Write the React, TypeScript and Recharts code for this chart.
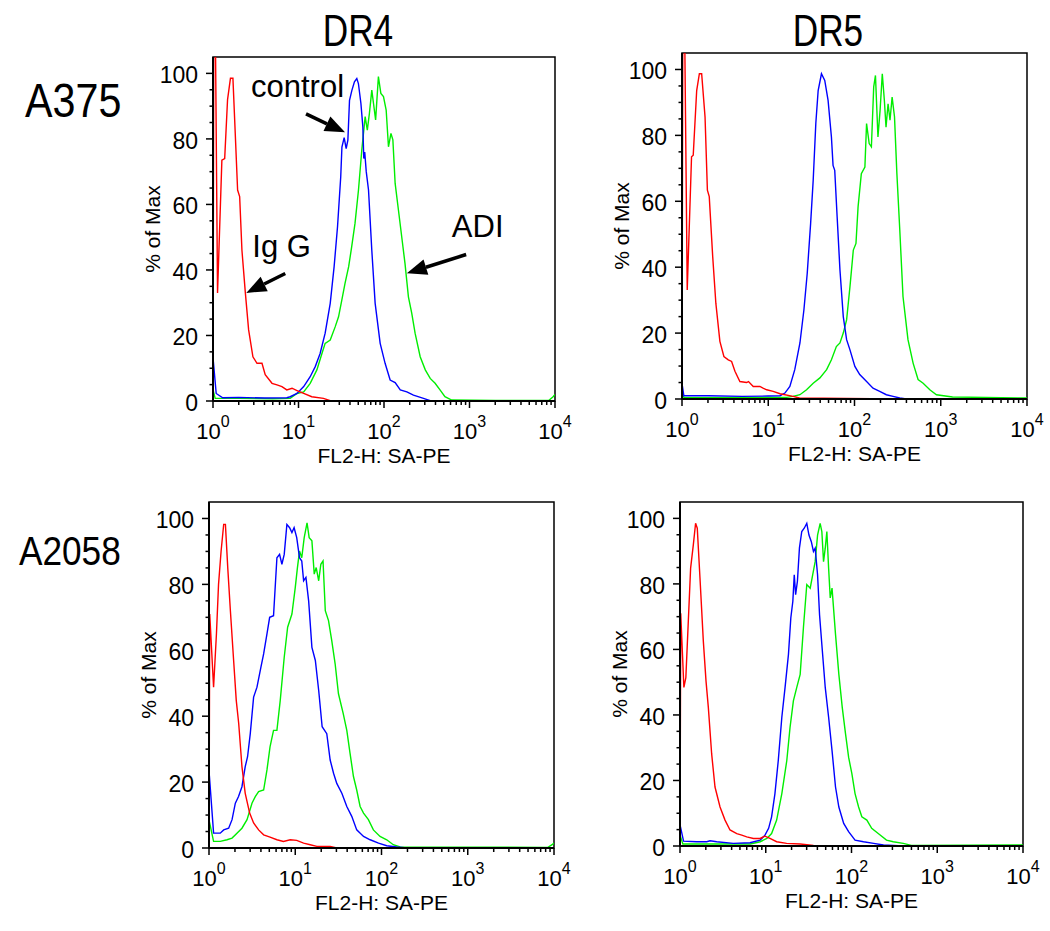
import React from 'react';
import { LineChart, Line, XAxis, YAxis, ReferenceArea, ReferenceDot, Label } from 'recharts';

const FONT = "Arial, 'Liberation Sans', Helvetica, sans-serif";
const RED = '#ff0000';
const BLUE = '#0000ff';
const GREEN = '#00ee00';

type Pt = [number, number];

// [fluorescence, % of max]
const a375Dr4IgG: Pt[] = [[1, 0], [1.03, 160], [1.13, 33], [1.27, 73.5], [1.37, 74], [1.48, 92], [1.6, 98.5], [1.71, 98.5], [1.82, 81.7], [1.94, 64.4], [2.05, 62.4], [2.18, 46], [2.39, 33], [2.61, 21.7], [2.93, 13.5], [3.27, 11.5], [3.74, 11.5], [4.08, 8], [4.9, 5.4], [5.6, 4.9], [6.4, 4.4], [7.3, 3.4], [8.4, 3.9], [9.6, 3.2], [11.5, 2.3], [14.3, 1.3], [19.6, 0.8], [23.5, 0.1], [300, 0]];
const a375Dr4Control: Pt[] = [[1, 0], [1.01, 12], [1.09, 2.3], [1.3, 1], [2, 1.1], [4, 0.9], [7.3, 1], [8, 1.3], [9.6, 2.3], [11.5, 4.4], [13.7, 7.4], [15.7, 10.5], [17.9, 14.5], [20.5, 20.7], [23.5, 29.8], [26.1, 41], [28.6, 53.2], [31.2, 68.5], [32.2, 77.5], [34.2, 80.4], [36.1, 77], [37.8, 79.6], [39.5, 91.8], [42.1, 94.8], [45.1, 97.4], [48.1, 98.4], [50.2, 96.9], [53.7, 90.8], [56.6, 83.6], [58, 74], [59.5, 76], [62, 70], [65.9, 64.4], [72, 46], [78.8, 29.8], [90.2, 17.6], [103, 11.5], [118, 6.4], [135, 5.6], [155, 3.4], [185, 2.8], [221, 1.8], [290, 0.8], [347, 0.1], [650, 0]];
const a375Dr4Adi: Pt[] = [[1, 0], [1.01, 3], [1.06, 0.8], [2, 0.8], [5, 0.7], [8, 0.8], [9.6, 2.3], [11.5, 2.8], [13.7, 5.4], [16.4, 9.5], [18.8, 14.5], [20.5, 17.6], [23.5, 18.6], [26.9, 22.7], [29.4, 25.7], [32.1, 30.8], [35, 35.9], [38.6, 41], [41.9, 47.1], [45.8, 54.2], [50.3, 64.4], [55, 76.6], [60.2, 86.8], [63.8, 82.7], [67.5, 87.8], [72, 94.9], [75.4, 90.8], [79.8, 85.8], [86, 99], [91.9, 93.9], [98.6, 92.9], [106, 88.8], [112.8, 77.6], [120.6, 81.7], [127, 79.7], [135, 66.4], [147.5, 58.3], [161, 50.2], [176, 42], [193, 31.8], [211, 26.8], [231, 20.7], [265, 13.5], [304, 9.5], [347, 6.9], [396, 5.4], [452, 3.4], [516, 1.3], [619, 0.3], [2000, 0.2], [8500, 0.2], [9500, 1.3], [10000, 2]];

const a375Dr5IgG: Pt[] = [[1, 0], [1.03, 160], [1.15, 33.1], [1.29, 73.5], [1.35, 74], [1.48, 93.6], [1.59, 98.7], [1.69, 98.7], [1.85, 85.6], [1.97, 63.4], [2.07, 61.4], [2.27, 43.2], [2.47, 29], [2.75, 17.5], [3.06, 12.9], [3.44, 11.9], [3.76, 11.4], [4.11, 8.4], [4.69, 5.3], [5.6, 5], [5.9, 5.3], [6.7, 3.8], [8, 3.8], [8.7, 3.3], [9.6, 2.8], [11.4, 2.3], [13.7, 1.6], [19.4, 0.8], [23, 0.3], [300, 0]];
const a375Dr5Control: Pt[] = [[1, 0], [1.01, 4], [1.05, 1], [2, 1], [5, 0.8], [10, 0.9], [13.7, 1], [15.6, 1.8], [17.8, 3.8], [20.3, 8.9], [23.3, 17], [25.9, 27], [28.3, 38.1], [31, 53.3], [33.2, 66.4], [35.6, 83.6], [37.9, 93.6], [41.4, 98.7], [45.2, 96.7], [49.4, 90.6], [54, 79.5], [56.4, 70.9], [59, 69.4], [62.9, 55.3], [67.8, 39.2], [74.1, 25], [81, 18], [88.6, 14.9], [101, 9.9], [115, 7.4], [138, 5.3], [164, 3.3], [196, 2.3], [234, 1.3], [280, 0.8], [335, 0.3], [400, 0]];
const a375Dr5Adi: Pt[] = [[1, 0], [1.01, 2], [1.05, 0.5], [5, 0.4], [16.3, 0.5], [19.4, 0.8], [23.3, 1.3], [27.8, 2.8], [33.2, 4.8], [39.7, 6.4], [47.5, 8.9], [54, 11.9], [61.6, 15.9], [67.8, 17], [74.1, 20], [81, 24], [88.6, 34.1], [96.9, 45.2], [104, 47.2], [110, 58.3], [120, 68.4], [132, 70.4], [138, 83.6], [148, 77.5], [157, 76.5], [167, 94.7], [175, 98.2], [187, 79.5], [198, 87.6], [210, 98.7], [222, 90.6], [232, 82.5], [245, 89.6], [258, 84.6], [273, 91.6], [291, 85.6], [310, 68.4], [335, 51.3], [365, 31.1], [417, 18], [478, 10.9], [546, 5.9], [625, 4.8], [747, 2.8], [892, 1.3], [1370, 0.6], [10000, 0.3]];

const a2058Dr4IgG: Pt[] = [[1, 0], [1.02, 71], [1.13, 48.8], [1.22, 65], [1.29, 80], [1.38, 90], [1.48, 98.2], [1.55, 98.2], [1.65, 85], [1.77, 72], [1.93, 56.9], [2.07, 44.8], [2.21, 37.8], [2.41, 24.7], [2.63, 16.6], [2.96, 10.6], [3.29, 7.6], [3.76, 5.5], [4.3, 4], [5.1, 3.3], [6.13, 2.5], [7.3, 2], [8.75, 2.5], [10.4, 2.3], [12.5, 1.5], [14.9, 1], [17.8, 0.5], [25.4, 0.5], [30.3, 0], [120, 0]];
const a2058Dr4Control: Pt[] = [[1, 0], [1.01, 22], [1.13, 4.5], [1.35, 4.5], [1.48, 5.5], [1.69, 6], [1.85, 8.6], [2.02, 13.6], [2.2, 15.6], [2.41, 18.6], [2.63, 24.7], [2.8, 27.7], [3.01, 34.7], [3.29, 45.8], [3.6, 48.8], [4, 54.9], [4.3, 58.9], [4.7, 65], [5.05, 70], [5.6, 70.5], [6.13, 88.1], [6.58, 89.1], [7, 86.1], [7.45, 89.1], [8, 98.2], [8.6, 97.2], [9.15, 95.7], [9.7, 97.2], [10.4, 94.2], [11.2, 88.1], [11.9, 87.1], [12.5, 81.1], [13.3, 82.1], [14.3, 75], [15.6, 60.9], [17.1, 56.9], [18.7, 47.8], [20.5, 36.8], [23.2, 34.7], [25.4, 26.7], [27.8, 22.7], [30.3, 19.6], [34.7, 16.6], [39.6, 12.6], [45.2, 9.6], [51.6, 5.5], [61.9, 3.5], [73.9, 2.5], [92.4, 1.5], [115, 0.7], [150, 0.3], [200, 0]];
const a2058Dr4Adi: Pt[] = [[1, 0], [1.01, 8], [1.13, 2], [1.35, 2], [1.62, 2.5], [1.85, 3], [2.11, 4.5], [2.41, 6], [2.76, 8.6], [3.15, 13.6], [3.44, 15.6], [3.76, 17.1], [4.3, 17.6], [4.7, 23.7], [5.1, 30.7], [5.6, 35.7], [6.13, 35.7], [6.7, 44.8], [7.45, 57.9], [8.16, 67], [9.15, 71], [10, 79], [10.6, 85.1], [11.2, 90.1], [11.9, 88.1], [12.7, 94.2], [13.7, 98.7], [14.5, 94.2], [15.6, 93.2], [16.6, 83.1], [17.5, 85.1], [18.7, 81.1], [19.8, 86.1], [21, 87.1], [22.3, 72], [24.3, 69], [26.5, 62.9], [29, 55.9], [31.7, 46.8], [36, 40.8], [39.6, 35.7], [43.2, 28.7], [47.3, 21.7], [51.6, 17.6], [56.5, 12.6], [61.9, 10.6], [70.5, 8.6], [80.5, 5.5], [96.2, 3.5], [115, 2.5], [137, 1], [164, 0.3], [8500, 0.2], [9500, 1], [10000, 1.5]];

const a2058Dr5IgG: Pt[] = [[1, 0], [1.02, 71], [1.11, 48.4], [1.17, 51.4], [1.25, 68.6], [1.33, 84.8], [1.43, 91.9], [1.52, 98.5], [1.59, 97], [1.71, 81.8], [1.87, 62.6], [2.01, 50.4], [2.14, 42.3], [2.34, 28.1], [2.56, 18], [2.93, 11.9], [3.35, 7.9], [3.83, 4.9], [4.59, 3.8], [5.25, 3.3], [6, 2.8], [7.18, 2.3], [8.6, 2.3], [9.8, 3], [11.2, 2.3], [13.4, 1.3], [17.5, 0.8], [25.2, 0.6], [36, 0.2], [200, 0]];
const a2058Dr5Control: Pt[] = [[1, 0], [1.01, 6], [1.1, 1.5], [1.56, 1.3], [2.05, 1.3], [2.24, 1.6], [2.68, 1.3], [4.19, 0.8], [6.56, 1], [8.6, 1.8], [9.8, 3.3], [10.8, 5.4], [11.7, 8.9], [12.8, 16], [14, 26.1], [15.4, 39.3], [16.8, 48.4], [18.4, 58.5], [19.6, 69.6], [20.7, 74.7], [21.5, 82.8], [22.3, 76.7], [23.4, 80.8], [24.7, 90.9], [26.3, 96], [28.1, 97], [30.1, 98.5], [31.9, 94.9], [34, 92.9], [36, 89.9], [37.7, 90.9], [40.2, 82.8], [42.4, 70.6], [45.1, 61.5], [49.4, 48.4], [54.1, 39.3], [59.3, 29.1], [65.1, 18], [71.2, 11.9], [81.1, 6.9], [92.5, 4.4], [110, 1.8], [138, 1.3], [181, 0.8], [236, 0.3], [400, 0]];
const a2058Dr5Adi: Pt[] = [[1, 0], [1.01, 3], [1.08, 0.6], [3, 0.6], [6.6, 0.6], [8.6, 1.3], [10.3, 2.3], [11.7, 3.8], [13.4, 7.9], [15.4, 16], [17.6, 26.1], [19.2, 36.2], [21, 44.3], [23, 48.4], [25.2, 52.4], [27.5, 66.6], [30.1, 79.8], [33, 78.7], [35.3, 82.8], [37.7, 86.8], [40.2, 94.9], [43.1, 98.5], [45.1, 96], [47.2, 86.8], [49.4, 90.9], [51.6, 96], [54.1, 84.8], [56.5, 75.7], [59.3, 78.7], [65.1, 64.6], [71.2, 52.4], [78, 42.3], [85.2, 34.2], [92.5, 27.1], [101, 22.1], [110, 16], [121, 11.9], [132, 8.9], [151, 7.9], [172, 5.4], [205, 3.8], [256, 1.8], [307, 1.3], [401, 0.8], [500, 0.2], [10000, 0.3]];

const xMajor = [1, 10, 100, 1000, 10000];
const xMinorSteps = [2, 3, 4, 5, 6, 7, 8, 9];
const yTicks = [0, 5, 10, 15, 20, 25, 30, 35, 40, 45, 50, 55, 60, 65, 70, 75, 80, 85, 90, 95, 100];
const xTicks = xMajor.flatMap((d) => (d < 10000 ? [d, ...xMinorSteps.map((m) => m * d)] : [d]));

// arrow notes on the A375 / DR4 panel: tip in data units, tail and text offsets in px
const a375Dr4Notes = [
  { text: 'control', x: 35, y: 82, dx: -39, dy: -18.4, tx: -94, ty: -35 },
  { text: 'Ig G', x: 2.45, y: 33, dx: 39, dy: -19.4, tx: 6, ty: -36 },
  { text: 'ADI', x: 185, y: 39, dx: 59.3, dy: -18.7, tx: 45, ty: -36 },
];

const toPts = (arr: Pt[]) => arr.map(([x, y]) => ({ x, y }));

const XTick = (props: any) => {
  const { x, y, payload } = props;
  const v = payload.value;
  const exp = Math.round(Math.log10(v));
  const major = Math.abs(v - Math.pow(10, exp)) < 1e-6;
  return (
    <g>
      <line x1={x} x2={x} y1={y} y2={y + (major ? 7 : 4)} stroke="#000" strokeWidth={1.5} />
      {major && (
        <text x={x} y={y + 38} textAnchor="middle" fontSize={22} fontFamily={FONT} fill="#000">
          <tspan>10</tspan>
          <tspan dy={-12} fontSize={16}>{exp}</tspan>
        </text>
      )}
    </g>
  );
};

const YTick = (props: any) => {
  const { x, y, payload } = props;
  const v = payload.value;
  const major = v % 20 === 0;
  return (
    <g>
      <line x1={x - (major ? 7 : 3.5)} x2={x} y1={y} y2={y} stroke="#000" strokeWidth={1.5} />
      {major && (
        <text x={x - 15} y={y + 10} textAnchor="end" fontSize={23} fontFamily={FONT} fill="#000">
          {v}
        </text>
      )}
    </g>
  );
};

const arrowShape = (n: any) => (props: any) => {
  const { cx, cy } = props;
  const len = Math.hypot(n.dx, n.dy);
  const ux = n.dx / len;
  const uy = n.dy / len;
  const head = 20;
  const half = 8;
  const bx = cx + ux * head;
  const by = cy + uy * head;
  return (
    <g>
      <line x1={cx + n.dx} y1={cy + n.dy} x2={bx} y2={by} stroke="#000" strokeWidth={3.5} />
      <polygon
        points={`${cx},${cy} ${bx - uy * half},${by + ux * half} ${bx + uy * half},${by - ux * half}`}
        fill="#000"
      />
      <text x={cx + n.tx} y={cy + n.ty} fontSize={31} fontFamily={FONT} fill="#000">
        {n.text}
      </text>
    </g>
  );
};

interface PanelProps {
  box: { left: number; top: number; right: number; bottom: number };
  igg: Pt[];
  control: Pt[];
  adi: Pt[];
  notes?: typeof a375Dr4Notes;
}

function Panel({ box, igg, control, adi, notes = [] }: PanelProps) {
  const padL = 130;
  const padT = 10;
  const padR = 26;
  const padB = 75;
  const w = box.right - box.left + padL + padR;
  const h = box.bottom - box.top + padT + padB;
  return (
    <div style={{ position: 'absolute', left: box.left - padL, top: box.top - padT, width: w, height: h }}>
      <LineChart width={w} height={h} margin={{ top: padT, right: padR, left: 10, bottom: 0 }}>
        <XAxis
          type="number"
          dataKey="x"
          scale="log"
          domain={[1, 10000]}
          allowDataOverflow
          ticks={xTicks}
          interval={0}
          height={padB}
          tickLine={false}
          tickSize={0}
          tickMargin={0}
          tick={(p: any) => <XTick {...p} />}
          axisLine={{ stroke: '#000', strokeWidth: 2 }}
        >
          <Label value="FL2-H: SA-PE" position="insideBottom" offset={13} fontSize={21} fill="#000" fontFamily={FONT} />
        </XAxis>
        <YAxis
          type="number"
          dataKey="y"
          domain={[0, 105]}
          allowDataOverflow
          ticks={yTicks}
          interval={0}
          width={120}
          tickLine={false}
          tickSize={0}
          tickMargin={0}
          tick={(p: any) => <YTick {...p} />}
          axisLine={{ stroke: '#000', strokeWidth: 2 }}
        >
          <Label value="% of Max" angle={-90} position="center" fontSize={21} fill="#000" fontFamily={FONT} />
        </YAxis>
        <ReferenceArea x1={1} x2={10000} y1={0} y2={105} fill="none" fillOpacity={0} stroke="#000" strokeWidth={1.5} />
        <Line data={toPts(adi)} dataKey="y" stroke={GREEN} strokeWidth={1.4} dot={false} activeDot={false} type="linear" isAnimationActive={false} />
        <Line data={toPts(control)} dataKey="y" stroke={BLUE} strokeWidth={1.4} dot={false} activeDot={false} type="linear" isAnimationActive={false} />
        <Line data={toPts(igg)} dataKey="y" stroke={RED} strokeWidth={1.4} dot={false} activeDot={false} type="linear" isAnimationActive={false} />
        {notes.map((n) => (
          <ReferenceDot key={n.text} x={n.x} y={n.y} r={0} ifOverflow="visible" shape={arrowShape(n)} />
        ))}
      </LineChart>
    </div>
  );
}

export default function App() {
  return (
    <div style={{ position: 'absolute', left: 0, top: 0, width: 1050, height: 931, background: '#fff', overflow: 'hidden' }}>
      <Panel box={{ left: 213, top: 57, right: 555, bottom: 401 }} igg={a375Dr4IgG} control={a375Dr4Control} adi={a375Dr4Adi} notes={a375Dr4Notes} />
      <Panel box={{ left: 682, top: 53, right: 1027, bottom: 399 }} igg={a375Dr5IgG} control={a375Dr5Control} adi={a375Dr5Adi} />
      <Panel box={{ left: 209, top: 502, right: 554, bottom: 848 }} igg={a2058Dr4IgG} control={a2058Dr4Control} adi={a2058Dr4Adi} />
      <Panel box={{ left: 680, top: 502, right: 1023, bottom: 846 }} igg={a2058Dr5IgG} control={a2058Dr5Control} adi={a2058Dr5Adi} />
      <svg width={1050} height={931} style={{ position: 'absolute', left: 0, top: 0, pointerEvents: 'none' }}>
        <g fontFamily={FONT} fill="#000">
          <text transform="translate(358,46) scale(0.8,1)" textAnchor="middle" fontSize={44}>DR4</text>
          <text transform="translate(828,46) scale(0.8,1)" textAnchor="middle" fontSize={44}>DR5</text>
          <text transform="translate(25,117) scale(0.86,1)" fontSize={48}>A375</text>
          <text transform="translate(19,565) scale(0.88,1)" fontSize={40}>A2058</text>
        </g>
      </svg>
    </div>
  );
}
